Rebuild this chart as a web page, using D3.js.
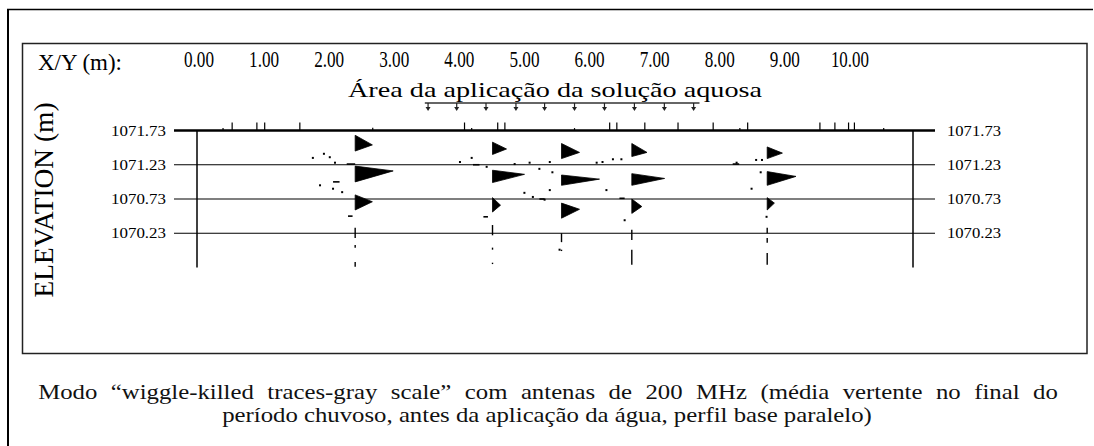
<!DOCTYPE html>
<html><head><meta charset="utf-8">
<script src="https://cdn.jsdelivr.net/npm/d3@7"></script>
<style>html,body{margin:0;padding:0;background:#fff;}svg{display:block;}</style>
</head><body>
<svg id="chart" width="1094" height="446"></svg>
<script>
// ---- data ----
const xLabels = [0,1,2,3,4,5,6,7,8,9,10];                 // X/Y (m) labels
const elevTicks = [1071.73, 1071.23, 1070.73, 1070.23];   // elevation lines
const profileExtent = [0, 11];                            // m
const elevExtent = [1069.73, 1071.73];                    // m
const traceX = [2.43, 4.54, 5.60, 6.68, 8.76];            // trace positions (m)
// lobes per trace: [topElev, apexElev, bottomElev, amplitude]
const trace1Lobes = [[1071.66,1071.52,1071.43,0.43],[1071.21,1071.14,1070.98,0.95],[1070.79,1070.69,1070.57,0.43]];
const trace2Lobes = [[1071.56,1071.46,1071.38,0.35],[1071.15,1071.09,1070.97,0.80],[1070.75,1070.64,1070.54,0.20]];
const trace3Lobes = [[1071.54,1071.41,1071.32,0.45],[1071.08,1071.02,1070.93,0.95],[1070.67,1070.58,1070.45,0.45]];
const trace4Lobes = [[1071.54,1071.41,1071.35,0.38],[1071.10,1071.03,1070.93,0.82],[1070.73,1070.62,1070.52,0.25]];
const trace5Lobes = [[1071.49,1071.40,1071.32,0.38],[1071.13,1071.06,1070.93,0.72],[1070.75,1070.67,1070.57,0.18]];
// weak trace fragments per trace: [topElev, bottomElev]
const trace1Frags = [[1070.31,1070.16],[1070.06,1070.02],[1069.81,1069.74]];
const trace2Frags = [[1070.35,1070.20],[1070.02,1069.99],[1069.80,1069.78]];
const trace3Frags = [[1070.23,1070.10],[1069.99,1069.97]];
const trace4Frags = [[1070.28,1070.13],[1069.99,1069.77]];
const trace5Frags = [[1070.31,1070.23],[1070.16,1070.09],[1069.94,1069.77]];
// scattered weak returns [x m, elev]
const noiseDots = [[1.78,1071.33],[1.95,1071.39],[2.04,1071.34],[2.12,1071.26],[1.89,1070.93],[2.09,1070.88],[2.23,1070.83],
  [4.04,1071.27],[4.22,1071.33],[4.45,1071.20],[4.88,1071.24],[5.11,1071.26],[5.26,1071.17],[5.42,1071.27],[5.03,1070.82],[5.16,1070.76],[5.34,1070.72],
  [6.14,1071.26],[6.23,1071.27],[6.39,1071.31],[6.52,1071.31],[5.46,1071.12],[5.42,1070.86],[6.29,1070.86],[6.57,1070.42],[5.57,1069.99],
  [8.29,1071.26],[8.59,1071.30],[8.68,1071.30],[8.66,1071.12],[8.52,1070.88],[8.75,1070.47]];
const noiseDashes = [[2.09,2.19,1070.98],[2.32,2.39,1070.48],[2.30,2.43,1071.24],[4.24,4.34,1071.23],[4.40,4.47,1070.47],[5.26,5.34,1070.73],[6.49,6.57,1070.74],[8.23,8.33,1071.24]];
// survey marks on the surface line [x m, relative height]
const surfaceMarks = [[0.40,0.3],[0.54,1],[0.92,1],[1.04,1],[1.58,1],[2.70,0.35],[4.11,1],[4.22,0.3],[4.62,1],[4.73,1],[5.80,0.3],[6.34,1],[6.45,1],[6.88,1],[7.39,1],[7.93,1],[8.34,0.3],[8.46,1],[9.57,1],[9.80,1],[10.01,1],[10.10,1],[10.55,0.3]];
// application area
const applicationArea = [3.50, 7.72];
const applicationArrows = [3.55,3.99,4.44,4.90,5.34,5.80,6.26,6.72,7.18,7.63];
const texts = {
  xyTitle: "X/Y (m):",
  yTitle: "ELEVATION (m)",
  area: "Área da aplicação da solução aquosa",
  cap1: "Modo \u201Cwiggle-killed traces-gray scale\u201D com antenas de 200 MHz (média vertente no final do",
  cap2: "período chuvoso, antes da aplicação da água, perfil base paralelo)"
};

// ---- drawing ----
const svg = d3.select("#chart");
const x = d3.scaleLinear().domain(profileExtent).range([197, 913]);
const y = d3.scaleLinear().domain(elevExtent).range([267.5, 130.5]);
const amp = d3.scaleLinear().domain([0, 1]).range([0, 40]);
const serif = "'Liberation Serif','Times New Roman',serif";

// outer frame
svg.append("line").attr("x1",7).attr("x2",1093).attr("y1",9.5).attr("y2",9.5).attr("stroke","#000").attr("stroke-width",1.5);
svg.append("line").attr("x1",8).attr("x2",8).attr("y1",9).attr("y2",446).attr("stroke","#000").attr("stroke-width",2);
// inner box
svg.append("rect").attr("x",22.5).attr("y",43.5).attr("width",1064.5).attr("height",310)
  .attr("fill","none").attr("stroke","#222").attr("stroke-width",1.5);

function fit(sel, width){
  sel.attr("textLength", width).attr("lengthAdjust","spacingAndGlyphs");
}

// X/Y title & labels
svg.append("text").attr("x",38).attr("y",70).attr("font-family",serif).attr("font-size",23)
  .text(texts.xyTitle).call(fit, 84);
svg.append("g").selectAll("text").data(xLabels).join("text")
  .attr("x", d=>x(d)+2).attr("y",67).attr("text-anchor","middle")
  .attr("font-family",serif).attr("font-size",24).text(d=>d.toFixed(2))
  .each(function(d){ d3.select(this).call(fit, d >= 10 ? 38 : 30); });

// application area
svg.append("text").attr("x",348).attr("y",97).attr("font-family",serif).attr("font-size",21)
  .text(texts.area).call(fit, 414);
svg.append("line").attr("x1",x(applicationArea[0])).attr("x2",x(applicationArea[1]))
  .attr("y1",103).attr("y2",103).attr("stroke","#333").attr("stroke-width",1.3);
const arr = svg.append("g").selectAll("g").data(applicationArrows).join("g");
arr.append("line").attr("x1",d=>x(d)).attr("x2",d=>x(d)).attr("y1",103).attr("y2",108).attr("stroke","#222").attr("stroke-width",1.2);
arr.append("path").attr("d",d=>`M${x(d)-2.5},107L${x(d)+2.5},107L${x(d)},111Z`).attr("fill","#222");

// elevation title
svg.append("text").attr("transform","translate(53,200) rotate(-90)").attr("text-anchor","middle")
  .attr("font-family",serif).attr("font-size",27)
  .text(texts.yTitle).call(fit, 195);

// horizontal elevation lines
const hx0 = x(profileExtent[0]) - 23, hx1 = x(profileExtent[1]) + 22;
svg.append("g").selectAll("line").data(elevTicks).join("line")
  .attr("x1",hx0).attr("x2",hx1).attr("y1",d=>y(d)).attr("y2",d=>y(d))
  .attr("stroke","#000").attr("stroke-width",(d,i)=> i===0 ? 2.6 : 1.2);
svg.append("g").selectAll("text").data(elevTicks).join("text")
  .attr("x",166).attr("y",d=>y(d)+5).attr("text-anchor","end")
  .attr("font-family",serif).attr("font-size",14)
  .text(d=>d.toFixed(2)).call(fit, 55);
svg.append("g").selectAll("text").data(elevTicks).join("text")
  .attr("x",947).attr("y",d=>y(d)+5).attr("text-anchor","start")
  .attr("font-family",serif).attr("font-size",14)
  .text(d=>d.toFixed(2)).call(fit, 54);

// profile edge lines
svg.append("g").selectAll("line").data(profileExtent).join("line")
  .attr("x1",d=>x(d)).attr("x2",d=>x(d)).attr("y1",y(elevExtent[1])).attr("y2",y(elevExtent[0]))
  .attr("stroke","#000").attr("stroke-width",1.5);

// surface marks
svg.append("g").selectAll("line").data(surfaceMarks).join("line")
  .attr("x1",d=>x(d[0])).attr("x2",d=>x(d[0])).attr("y1",d=>y(elevExtent[1]) - 8*d[1]).attr("y2",y(elevExtent[1]))
  .attr("stroke","#000").attr("stroke-width",1.2);

// noise
svg.append("g").selectAll("rect").data(noiseDots).join("rect")
  .attr("x",d=>x(d[0])-1).attr("y",d=>y(d[1])-1).attr("width",2).attr("height",2).attr("fill","#000");
svg.append("g").selectAll("line").data(noiseDashes).join("line")
  .attr("x1",d=>x(d[0])).attr("x2",d=>x(d[1])).attr("y1",d=>y(d[2])).attr("y2",d=>y(d[2]))
  .attr("stroke","#000").attr("stroke-width",1.6);

// traces
const allLobes = [trace1Lobes, trace2Lobes, trace3Lobes, trace4Lobes, trace5Lobes];
const allFrags = [trace1Frags, trace2Frags, trace3Frags, trace4Frags, trace5Frags];
const lineGen = d3.line();
traceX.forEach((tx, i) => {
  const g = svg.append("g");
  g.selectAll("path").data(allLobes[i]).join("path")
    .attr("d", d => lineGen([[x(tx), y(d[0])], [x(tx)+amp(d[3]), y(d[1])], [x(tx), y(d[2])]]) + "Z")
    .attr("fill","#000").attr("stroke","#000").attr("stroke-width",0.8);
  g.selectAll("line").data(allFrags[i]).join("line")
    .attr("x1",x(tx)).attr("x2",x(tx)).attr("y1",d=>y(d[0])).attr("y2",d=>y(d[1]))
    .attr("stroke","#000").attr("stroke-width",1.4);
});

// caption: two centred lines with the same horizontally scaled glyphs
const capFont = 21, capCenter = 547, cap1Width = 1020, cap2Width = 650;
const c2 = svg.append("text").attr("font-family",serif).attr("font-size",capFont).attr("fill","#111")
  .attr("text-anchor","middle").attr("y",422).text(texts.cap2);
const s = cap2Width / c2.node().getComputedTextLength();
c2.attr("x", capCenter/s).attr("transform",`scale(${s},1)`);
const c1 = svg.append("text").attr("font-family",serif).attr("font-size",capFont).attr("fill","#111")
  .attr("text-anchor","middle").attr("y",399).text(texts.cap1);
const w1 = c1.node().getComputedTextLength();
const gaps = texts.cap1.split(" ").length - 1;
c1.attr("x", (capCenter+1)/s).attr("transform",`scale(${s},1)`)
  .attr("word-spacing", Math.max(0,(cap1Width/s - w1)/gaps));
</script>
</body></html>
